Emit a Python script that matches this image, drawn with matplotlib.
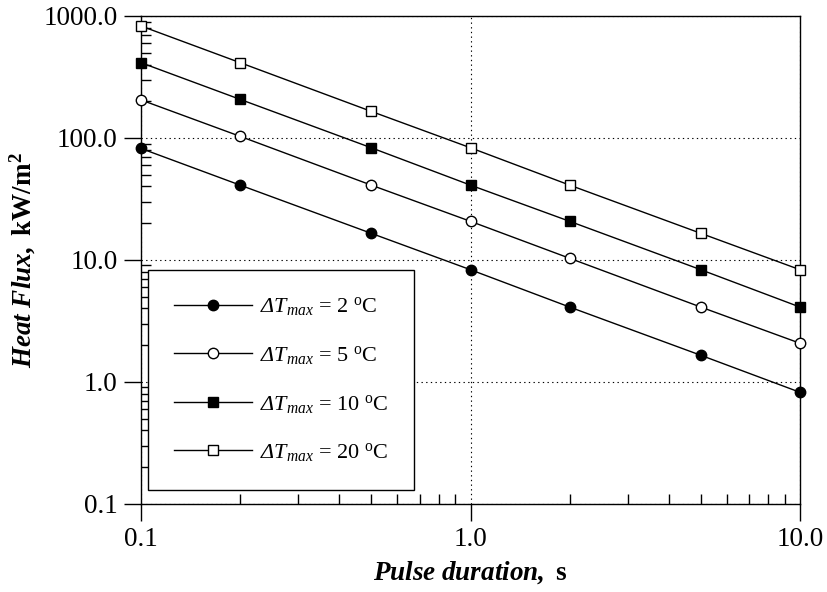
import matplotlib.pyplot as plt
from matplotlib.ticker import FixedLocator, LogLocator, NullFormatter

plt.rcParams['font.family'] = 'Liberation Serif'
plt.rcParams['mathtext.fontset'] = 'custom'
plt.rcParams['mathtext.rm'] = 'Liberation Serif'
plt.rcParams['mathtext.it'] = 'Liberation Serif:italic'
plt.rcParams['mathtext.sf'] = 'Liberation Serif:italic'  # italic Greek capital
plt.rcParams['mathtext.bf'] = 'Liberation Serif:bold'
plt.rcParams['mathtext.bfit'] = 'Liberation Serif:italic:bold'

# data
duration = [0.1, 0.2, 0.5, 1.0, 2.0, 5.0, 10.0]
flux_2 = [82, 41, 16.5, 8.3, 4.1, 1.65, 0.82]
flux_5 = [205, 103, 41, 20.7, 10.3, 4.1, 2.07]
flux_10 = [414, 207, 83, 41, 20.7, 8.3, 4.1]
flux_20 = [828, 414, 165, 83, 41, 16.5, 8.3]
labels = [r'$\mathsf{ΔT}_{\mathit{max}}$ = 2 $^{\mathrm{o}}$C',
          r'$\mathsf{ΔT}_{\mathit{max}}$ = 5 $^{\mathrm{o}}$C',
          r'$\mathsf{ΔT}_{\mathit{max}}$ = 10 $^{\mathrm{o}}$C',
          r'$\mathsf{ΔT}_{\mathit{max}}$ = 20 $^{\mathrm{o}}$C']
x_ticks = [0.1, 1.0, 10.0]
x_ticklabels = ['0.1', '1.0', '10.0']
y_ticks = [0.1, 1.0, 10.0, 100.0, 1000.0]
y_ticklabels = ['0.1', '1.0', '10.0', '100.0', '1000.0']

fig = plt.figure(figsize=(8.27, 5.92), dpi=100)
ax = fig.add_axes([0.1705, 0.149, 0.797, 0.824])

styles = [dict(marker='o', mfc='black'), dict(marker='o', mfc='white'),
          dict(marker='s', mfc='black'), dict(marker='s', mfc='white')]
for ys, lab, st in zip([flux_2, flux_5, flux_10, flux_20], labels, styles):
    ax.plot(duration, ys, color='black', lw=1, mec='black', ms=7.5,
            label=lab, clip_on=False, zorder=3, **st)

ax.set_xscale('log')
ax.set_yscale('log')
ax.set_xlim(0.1, 10)
ax.set_ylim(0.1, 1000)

ax.xaxis.set_major_locator(FixedLocator(x_ticks))
ax.set_xticklabels(x_ticklabels)
ax.yaxis.set_major_locator(FixedLocator(y_ticks))
ax.set_yticklabels(y_ticklabels)
ax.xaxis.set_minor_locator(LogLocator(base=10, subs=range(2, 10)))
ax.yaxis.set_minor_locator(LogLocator(base=10, subs=range(2, 10)))
ax.xaxis.set_minor_formatter(NullFormatter())
ax.yaxis.set_minor_formatter(NullFormatter())

ax.tick_params(which='major', direction='out', length=12, width=1,
               labelsize=19.5, pad=5)
ax.tick_params(which='minor', direction='in', length=7, width=1)
ax.tick_params(top=False, right=False, which='both')

ax.grid(True, which='major', linestyle=(0, (1.2, 3)), color='black', lw=0.8)
for sp in ax.spines.values():
    sp.set_linewidth(1)

ax.set_xlabel(r'$\mathbfit{Pulse\ duration,}$ $\mathbf{s}$', fontsize=19.5,
              labelpad=5)
ax.set_ylabel(r'$\mathbfit{Heat\ Flux,}$ $\mathbf{kW/m^2}$', fontsize=19.5,
              labelpad=4)

leg = ax.legend(loc='lower left', bbox_to_anchor=(0.011, 0.029),
                borderaxespad=0, fontsize=16, frameon=True, fancybox=False,
                edgecolor='black', framealpha=1, handlelength=3.5,
                labelspacing=1.15, borderpad=1.15, handletextpad=0.4)
leg.get_frame().set_linewidth(1)

fig.savefig('out.png', dpi=100)
